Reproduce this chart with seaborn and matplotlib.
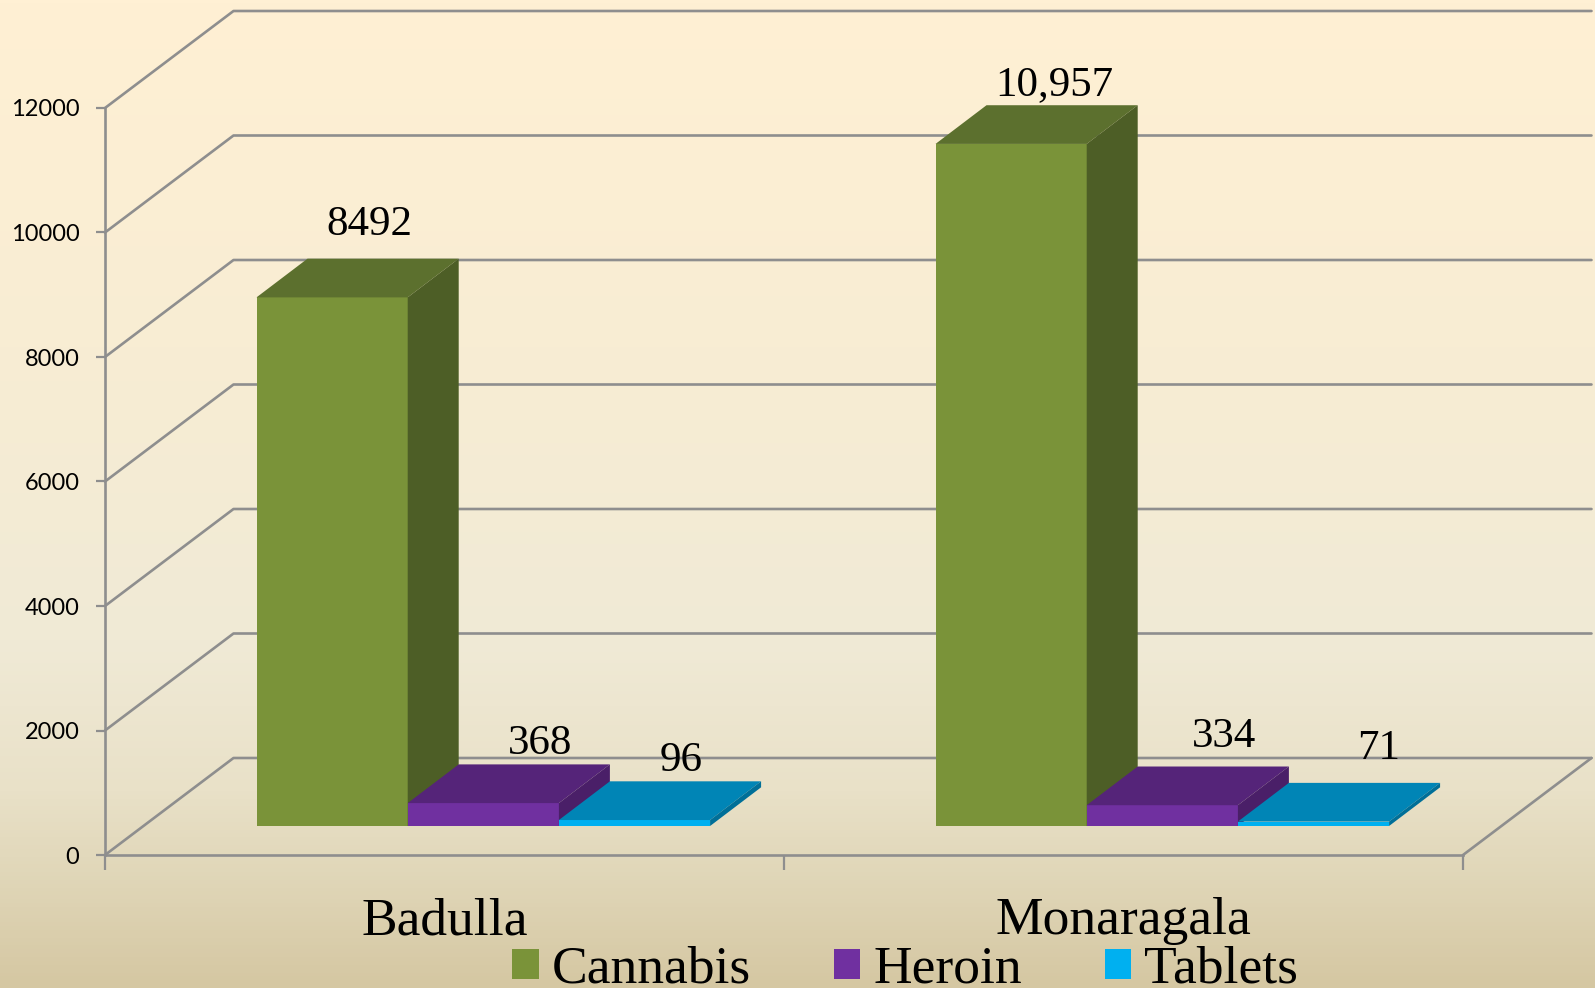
import numpy as np
import pandas as pd
import seaborn as sns
import matplotlib.pyplot as plt
from matplotlib.colors import LinearSegmentedColormap
from matplotlib.patches import Polygon

districts = ["Badulla", "Monaragala"]
drugs = ["Cannabis", "Heroin", "Tablets"]
cannabis = [8492, 10957]
heroin = [368, 334]
tablets = [96, 71]
value_labels = ["8492", "10,957", "368", "334", "96", "71"]
y_ticks = [0, 2000, 4000, 6000, 8000, 10000, 12000]

front_colors = ["#7A9339", "#7030A0", "#00B0F0"]
top_colors = ["#5C702E", "#552479", "#0085B6"]
side_colors = ["#4D5E26", "#4A1F68", "#006F98"]
line_color = "#8E8E8E"

W, H = 1595, 988
SERIF = "Liberation Serif"

sns.set_theme(style="white")
plt.rcParams["font.family"] = [SERIF, "DejaVu Serif"]

df = pd.DataFrame({
    "district": districts * 3,
    "drug": np.repeat(drugs, 2),
    "cases": cannabis + heroin + tablets,
})

fig = plt.figure(figsize=(W / 100, H / 100), dpi=100)

# Background gradient
bg = fig.add_axes([0, 0, 1, 1], zorder=0)
cmap = LinearSegmentedColormap.from_list("bg", [
    (0.0, "#FFF0D4"), (0.35, "#F8EDD3"), (0.65, "#F0EAD6"),
    (0.80, "#E9E1C8"), (0.90, "#DFD5B6"), (1.0, "#D5C7A2"),
])
bg.imshow(np.linspace(0, 1, 256)[:, None], aspect="auto", cmap=cmap, vmin=0, vmax=1)
bg.set_axis_off()


def pixel_axes(left, right, top, bottom, zorder):
    a = fig.add_axes([left / W, 1 - bottom / H, (right - left) / W, (bottom - top) / H], zorder=zorder)
    a.patch.set_visible(False)
    return a


# Axis box, walls and floor
ax = pixel_axes(105, 1463, 108, 855, 1)
px_x = 2 / (1463 - 105)
px_y = 12000 / (855 - 108)
wall_dx, wall_dy = 128.5 * px_x, 97 * px_y
ax.set_xlim(-0.5, 1.5)
ax.set_ylim(0, 12000)
for name, spine in ax.spines.items():
    spine.set_visible(name in ("left", "bottom"))
    spine.set_color(line_color)
    spine.set_linewidth(1.9)

line_kw = dict(color=line_color, lw=1.9, clip_on=False, solid_capstyle="round")
for v in y_ticks:
    ax.plot([-0.5, -0.5 + wall_dx, 1.5 + wall_dx], [v, v + wall_dy, v + wall_dy], **line_kw)
ax.plot([1.5, 1.5 + wall_dx], [0, wall_dy], **line_kw)

ax.set_yticks(y_ticks)
ax.set_yticklabels([str(v) for v in y_ticks], family="Lato", fontsize=17, color="black")
ax.tick_params(axis="y", length=6.5, width=1.6, color=line_color, pad=12, left=True)
ax.set_xticks([-0.5, 0.5, 1.5])
ax.set_xticklabels([])
ax.tick_params(axis="x", which="major", length=11, width=1.6, color=line_color, bottom=True)
ax.set_xticks([0, 1], minor=True)
ax.set_xticklabels(districts, minor=True, fontsize=38.5, color="black")
ax.tick_params(axis="x", which="minor", length=0, pad=30.5)

# Bars sit part way back on the floor
ax_bar = pixel_axes(105 + 38.8, 1463 + 38.8, 108 - 29, 855 - 29, 2)
sns.barplot(data=df, x="district", y="cases", hue="drug", hue_order=drugs,
            palette=front_colors, saturation=1, width=0.668, gap=0, linewidth=0, ax=ax_bar)
ax_bar.set_xlim(-0.5, 1.5)
ax_bar.set_ylim(0, 12000)

bar_dx, bar_dy = 51 * px_x, 38.7 * px_y
label_offsets = [(37, 62), (43, 49), (57, 49), (62, 58), (47, 49), (65, 63)]
labels = iter(zip(value_labels, label_offsets))
for i, container in enumerate(ax_bar.containers):
    for bar in container:
        bar.set_zorder(3 + i)
        left, right, top = bar.get_x(), bar.get_x() + bar.get_width(), bar.get_height()
        ax_bar.add_patch(Polygon(
            [(left, top), (right, top), (right + bar_dx, top + bar_dy), (left + bar_dx, top + bar_dy)],
            facecolor=top_colors[i], lw=0, zorder=3 + i, clip_on=False))
        ax_bar.add_patch(Polygon(
            [(right, 0), (right, top), (right + bar_dx, top + bar_dy), (right + bar_dx, bar_dy)],
            facecolor=side_colors[i], lw=0, zorder=3 + i, clip_on=False))
        text, (off_x, off_y) = next(labels)
        ax_bar.annotate(text, (left + (right - left) / 2, top), xytext=(off_x * 0.72, off_y * 0.72),
                        textcoords="offset points", ha="center", va="baseline",
                        fontsize=31, color="black", zorder=10, annotation_clip=False)

sns.move_legend(ax_bar, loc="lower left", bbox_to_anchor=(512 / W, -0.006), bbox_transform=fig.transFigure,
                ncol=3, frameon=False, title=None, fontsize=38.5, labelcolor="black", borderpad=0, borderaxespad=0,
                handlelength=0.5, handleheight=0.5, handletextpad=0.24, columnspacing=1.55)
ax_bar.set_axis_off()

fig.savefig("out.png", dpi=100)
